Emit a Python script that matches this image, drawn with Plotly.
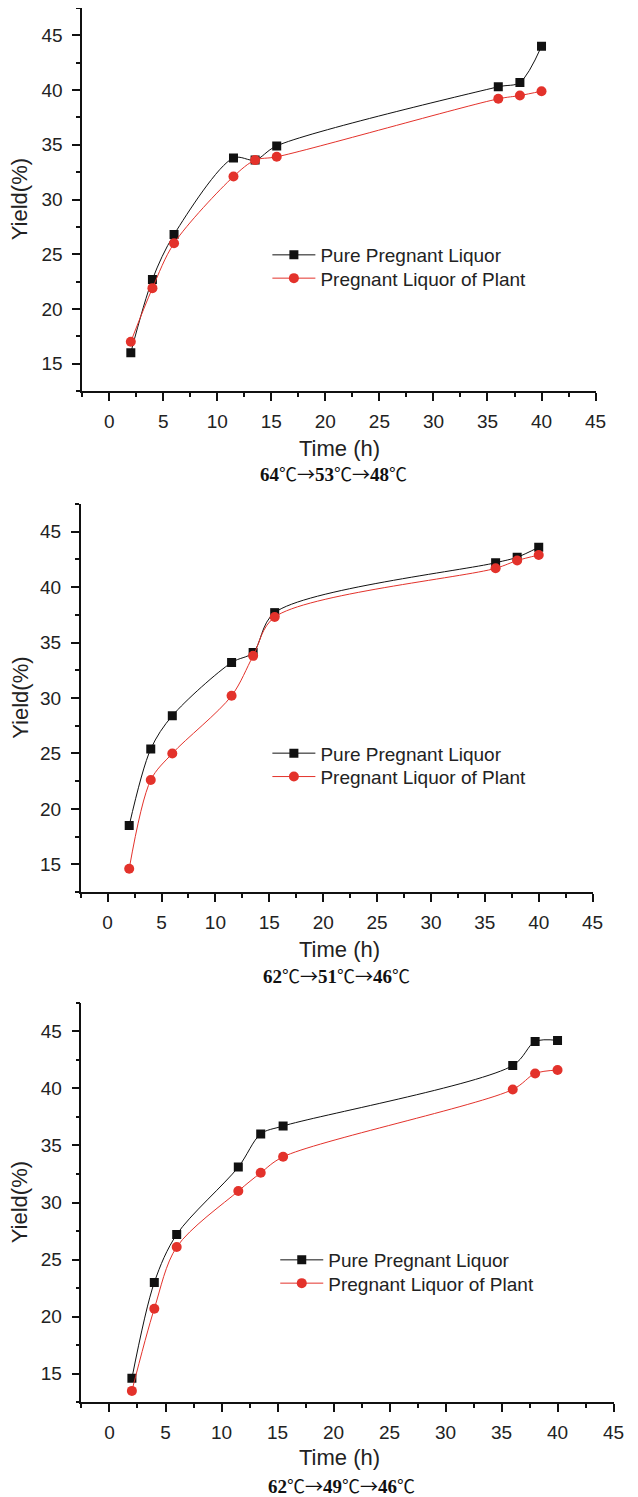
import plotly.graph_objects as go

# The page body has an 8 px margin, so the figure is drawn 8 px in from the top-left corner.
OFF = 8
W, H = 638 - OFF, 1497 - OFF

# ---- data ----
time_h = [2, 4, 6, 11.5, 13.5, 15.5, 36, 38, 40]

pure_1 = [16.0, 22.7, 26.8, 33.8, 33.6, 34.9, 40.3, 40.7, 44.0]
plant_1 = [17.0, 21.9, 26.0, 32.1, 33.6, 33.9, 39.2, 39.5, 39.9]

pure_2 = [18.5, 25.4, 28.4, 33.2, 34.1, 37.7, 42.2, 42.7, 43.6]
plant_2 = [14.6, 22.6, 25.0, 30.2, 33.8, 37.3, 41.7, 42.4, 42.9]

pure_3 = [14.6, 23.0, 27.2, 33.1, 36.0, 36.7, 42.0, 44.1, 44.2]
plant_3 = [13.5, 20.7, 26.1, 31.0, 32.6, 34.0, 39.9, 41.3, 41.6]

temps = [("64", "53", "48"), ("62", "51", "46"), ("62", "49", "46")]
series_names = ["Pure Pregnant Liquor", "Pregnant Liquor of Plant"]
x_title = "Time (h)"
y_title = "Yield(%)"

SYM = '<span style="font-family:Noto Sans CJK SC;font-size:18px">%s</span>'

def subtitle(t):
    deg = SYM % "℃"
    arr = SYM % "→"
    return arr.join("<b>%s</b>%s" % (v, deg) for v in t)

# ---- layout geometry (pixels in the reference picture) ----
panels = [
    dict(l=83.5, r=606.0, t=8.0, b=391.0, leg_x=273, leg_rows=(255.0, 278.3),
         title_x=345, title_y=448, sub_x=339, sub_y=473),
    dict(l=82.0, r=603.0, t=504.0, b=892.0, leg_x=273, leg_rows=(753.3, 776.7),
         title_x=345, title_y=949, sub_x=342, sub_y=975),
    dict(l=82.8, r=624.3, t=1002.7, b=1402.3, leg_x=281, leg_rows=(1260.0, 1283.3),
         title_x=345, title_y=1457, sub_x=347, sub_y=1485),
]

def px_x(v):
    return (v - OFF) / W

def px_y(v):
    return 1 - (v - OFF) / H

BLACK = "#111111"
RED = "#E3322B"
TICKCOL = "#222222"
sans = "Liberation Sans, Arial, Helvetica, sans-serif"
serif = "Liberation Serif, Times New Roman, serif"

data_sets = [(pure_1, plant_1), (pure_2, plant_2), (pure_3, plant_3)]
styles = [
    dict(line=dict(color=BLACK, width=1, shape="spline", smoothing=0.9),
         marker=dict(symbol="square", size=9, color=BLACK)),
    dict(line=dict(color=RED, width=1, shape="spline", smoothing=0.9),
         marker=dict(symbol="circle", size=10, color=RED)),
]

fig = go.Figure()
annotations = []
layout_extra = {}

for i, (p, series) in enumerate(zip(panels, data_sets)):
    n = "" if i == 0 else str(i + 1)
    xa, ya = "x" + n, "y" + n
    for j, yvals in enumerate(series):
        k = 2 * i + j + 1
        leg = "legend" if k == 1 else "legend%d" % k
        fig.add_trace(go.Scatter(
            x=time_h, y=yvals, name=series_names[j], xaxis=xa, yaxis=ya, legend=leg,
            mode="lines+markers", **styles[j]))
        layout_extra[leg] = dict(x=px_x(p["leg_x"] - 1), xanchor="left",
                                 y=px_y(p["leg_rows"][j]), yanchor="middle",
                                 xref="paper", yref="paper", bgcolor="rgba(0,0,0,0)",
                                 font=dict(family=sans, size=19, color=TICKCOL), itemwidth=43)

    common = dict(showline=True, linecolor="#111111", linewidth=1.5, showgrid=False, zeroline=False,
                  ticks="outside", ticklen=8, tickwidth=1.5, tickcolor="#111111",
                  tickfont=dict(family=sans, size=19, color=TICKCOL),
                  minor=dict(ticks="outside", ticklen=4, tickwidth=1.5, tickcolor="#111111", dtick=2.5))
    layout_extra["xaxis" + n] = dict(common, domain=[px_x(p["l"]), px_x(p["r"])], anchor=ya,
                                     range=[-2.5, 45], tick0=0, dtick=5, ticklabelstandoff=4)
    layout_extra["yaxis" + n] = dict(common, domain=[px_y(p["b"]), px_y(p["t"])], anchor=xa,
                                     range=[12.5, 47.5], tick0=0, dtick=5, ticklabelstandoff=6)
    annotations.append(dict(text=x_title, x=px_x(p["title_x"]), y=px_y(p["title_y"]),
                            xref="paper", yref="paper", xanchor="center", yanchor="middle",
                            showarrow=False, font=dict(family=sans, size=22, color=TICKCOL)))
    annotations.append(dict(text=subtitle(temps[i]), x=px_x(p["sub_x"]), y=px_y(p["sub_y"]),
                            xref="paper", yref="paper", xanchor="center", yanchor="middle",
                            showarrow=False, font=dict(family=serif, size=19, color="#111111")))
    annotations.append(dict(text=y_title, x=px_x(20), y=px_y((p["t"] + p["b"]) / 2),
                            xref="paper", yref="paper", xanchor="center", yanchor="middle",
                            textangle=-90, showarrow=False,
                            font=dict(family=sans, size=22, color=TICKCOL)))

fig.update_layout(
    width=W, height=H, autosize=False,
    margin=dict(l=0, r=0, t=0, b=0),
    paper_bgcolor="white", plot_bgcolor="white",
    showlegend=True,
    annotations=annotations,
    **layout_extra,
)

fig.write_html("out.html")
